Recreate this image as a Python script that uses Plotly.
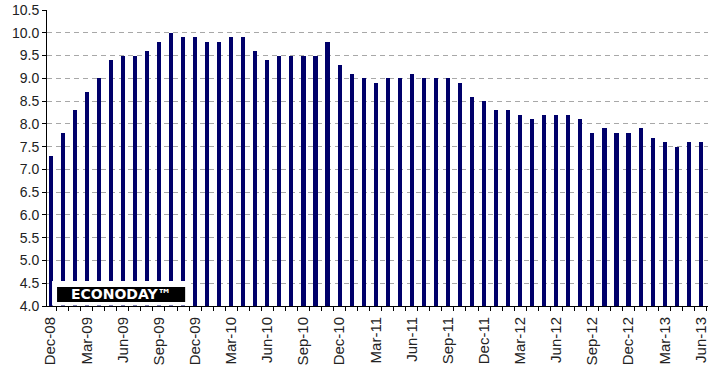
import plotly.graph_objects as go

months = ["Dec-08","Jan-09","Feb-09","Mar-09","Apr-09","May-09","Jun-09","Jul-09","Aug-09","Sep-09",
          "Oct-09","Nov-09","Dec-09","Jan-10","Feb-10","Mar-10","Apr-10","May-10","Jun-10","Jul-10",
          "Aug-10","Sep-10","Oct-10","Nov-10","Dec-10","Jan-11","Feb-11","Mar-11","Apr-11","May-11",
          "Jun-11","Jul-11","Aug-11","Sep-11","Oct-11","Nov-11","Dec-11","Jan-12","Feb-12","Mar-12",
          "Apr-12","May-12","Jun-12","Jul-12","Aug-12","Sep-12","Oct-12","Nov-12","Dec-12","Jan-13",
          "Feb-13","Mar-13","Apr-13","May-13","Jun-13"]
rates = [7.3, 7.8, 8.3, 8.7, 9.0, 9.4, 9.5, 9.5, 9.6, 9.8,
         10.0, 9.9, 9.9, 9.8, 9.8, 9.9, 9.9, 9.6, 9.4, 9.5,
         9.5, 9.5, 9.5, 9.8, 9.3, 9.1, 9.0, 8.9, 9.0, 9.0,
         9.1, 9.0, 9.0, 9.0, 8.9, 8.6, 8.5, 8.3, 8.3, 8.2,
         8.1, 8.2, 8.2, 8.2, 8.1, 7.8, 7.9, 7.8, 7.8, 7.9,
         7.7, 7.6, 7.5, 7.6, 7.6]
label_step = 3

xs = list(range(len(months)))
tickvals = xs[::label_step]
ticktext = months[::label_step]

fig = go.Figure(go.Bar(x=xs, y=rates, width=0.34, marker=dict(color="#00006a", line=dict(width=0))))

fig.update_layout(
    width=716, height=378,
    margin=dict(l=47, r=8, t=10, b=72, autoexpand=False),
    paper_bgcolor="white", plot_bgcolor="white",
    font=dict(family="Liberation Sans, Arial, sans-serif", size=14, color="#222"),
    showlegend=False, bargap=0,
)
fig.update_xaxes(
    automargin=False,
    range=[-0.3, 54.6], tickmode="array", tickvals=tickvals, ticktext=ticktext,
    tickangle=-90, tickfont=dict(size=15), showgrid=False, zeroline=False,
    showline=True, linecolor="#000", linewidth=1,
    ticks="outside", ticklen=4, tickcolor="rgba(0,0,0,0)",
    minor=dict(tickmode="linear", tick0=0.5, dtick=1, ticks="outside", ticklen=4,
               tickcolor="#000", showgrid=False),
)
fig.update_yaxes(
    automargin=False,
    range=[4, 10.5], dtick=0.5, tick0=4, tickformat=".1f",
    showgrid=True, gridcolor="#a8a8a8", griddash="5px,4px", gridwidth=1,
    zeroline=False, showline=True, linecolor="#000", linewidth=1,
    ticks="outside", ticklen=4, tickcolor="#000",
)

fig.add_shape(type="rect", xref="paper", yref="paper", x0=0.0076, x1=0.2136, y0=0.002, y1=0.0845,
              fillcolor="white", line=dict(width=0), layer="above")
fig.add_shape(type="rect", xref="paper", yref="paper", x0=0.0152, x1=0.209, y0=0.0135, y1=0.064,
              fillcolor="#000", line=dict(width=0), layer="above")
fig.add_annotation(xref="paper", yref="paper", x=0.112, y=0.039, text="<b>ECONODAY™</b>",
                   showarrow=False, font=dict(family="DejaVu Sans", size=14, color="white"),
                   xanchor="center", yanchor="middle")

fig.write_html("out.html", config={"displayModeBar": False},
               post_script="document.body.style.margin='0';document.body.style.overflow='hidden';")
